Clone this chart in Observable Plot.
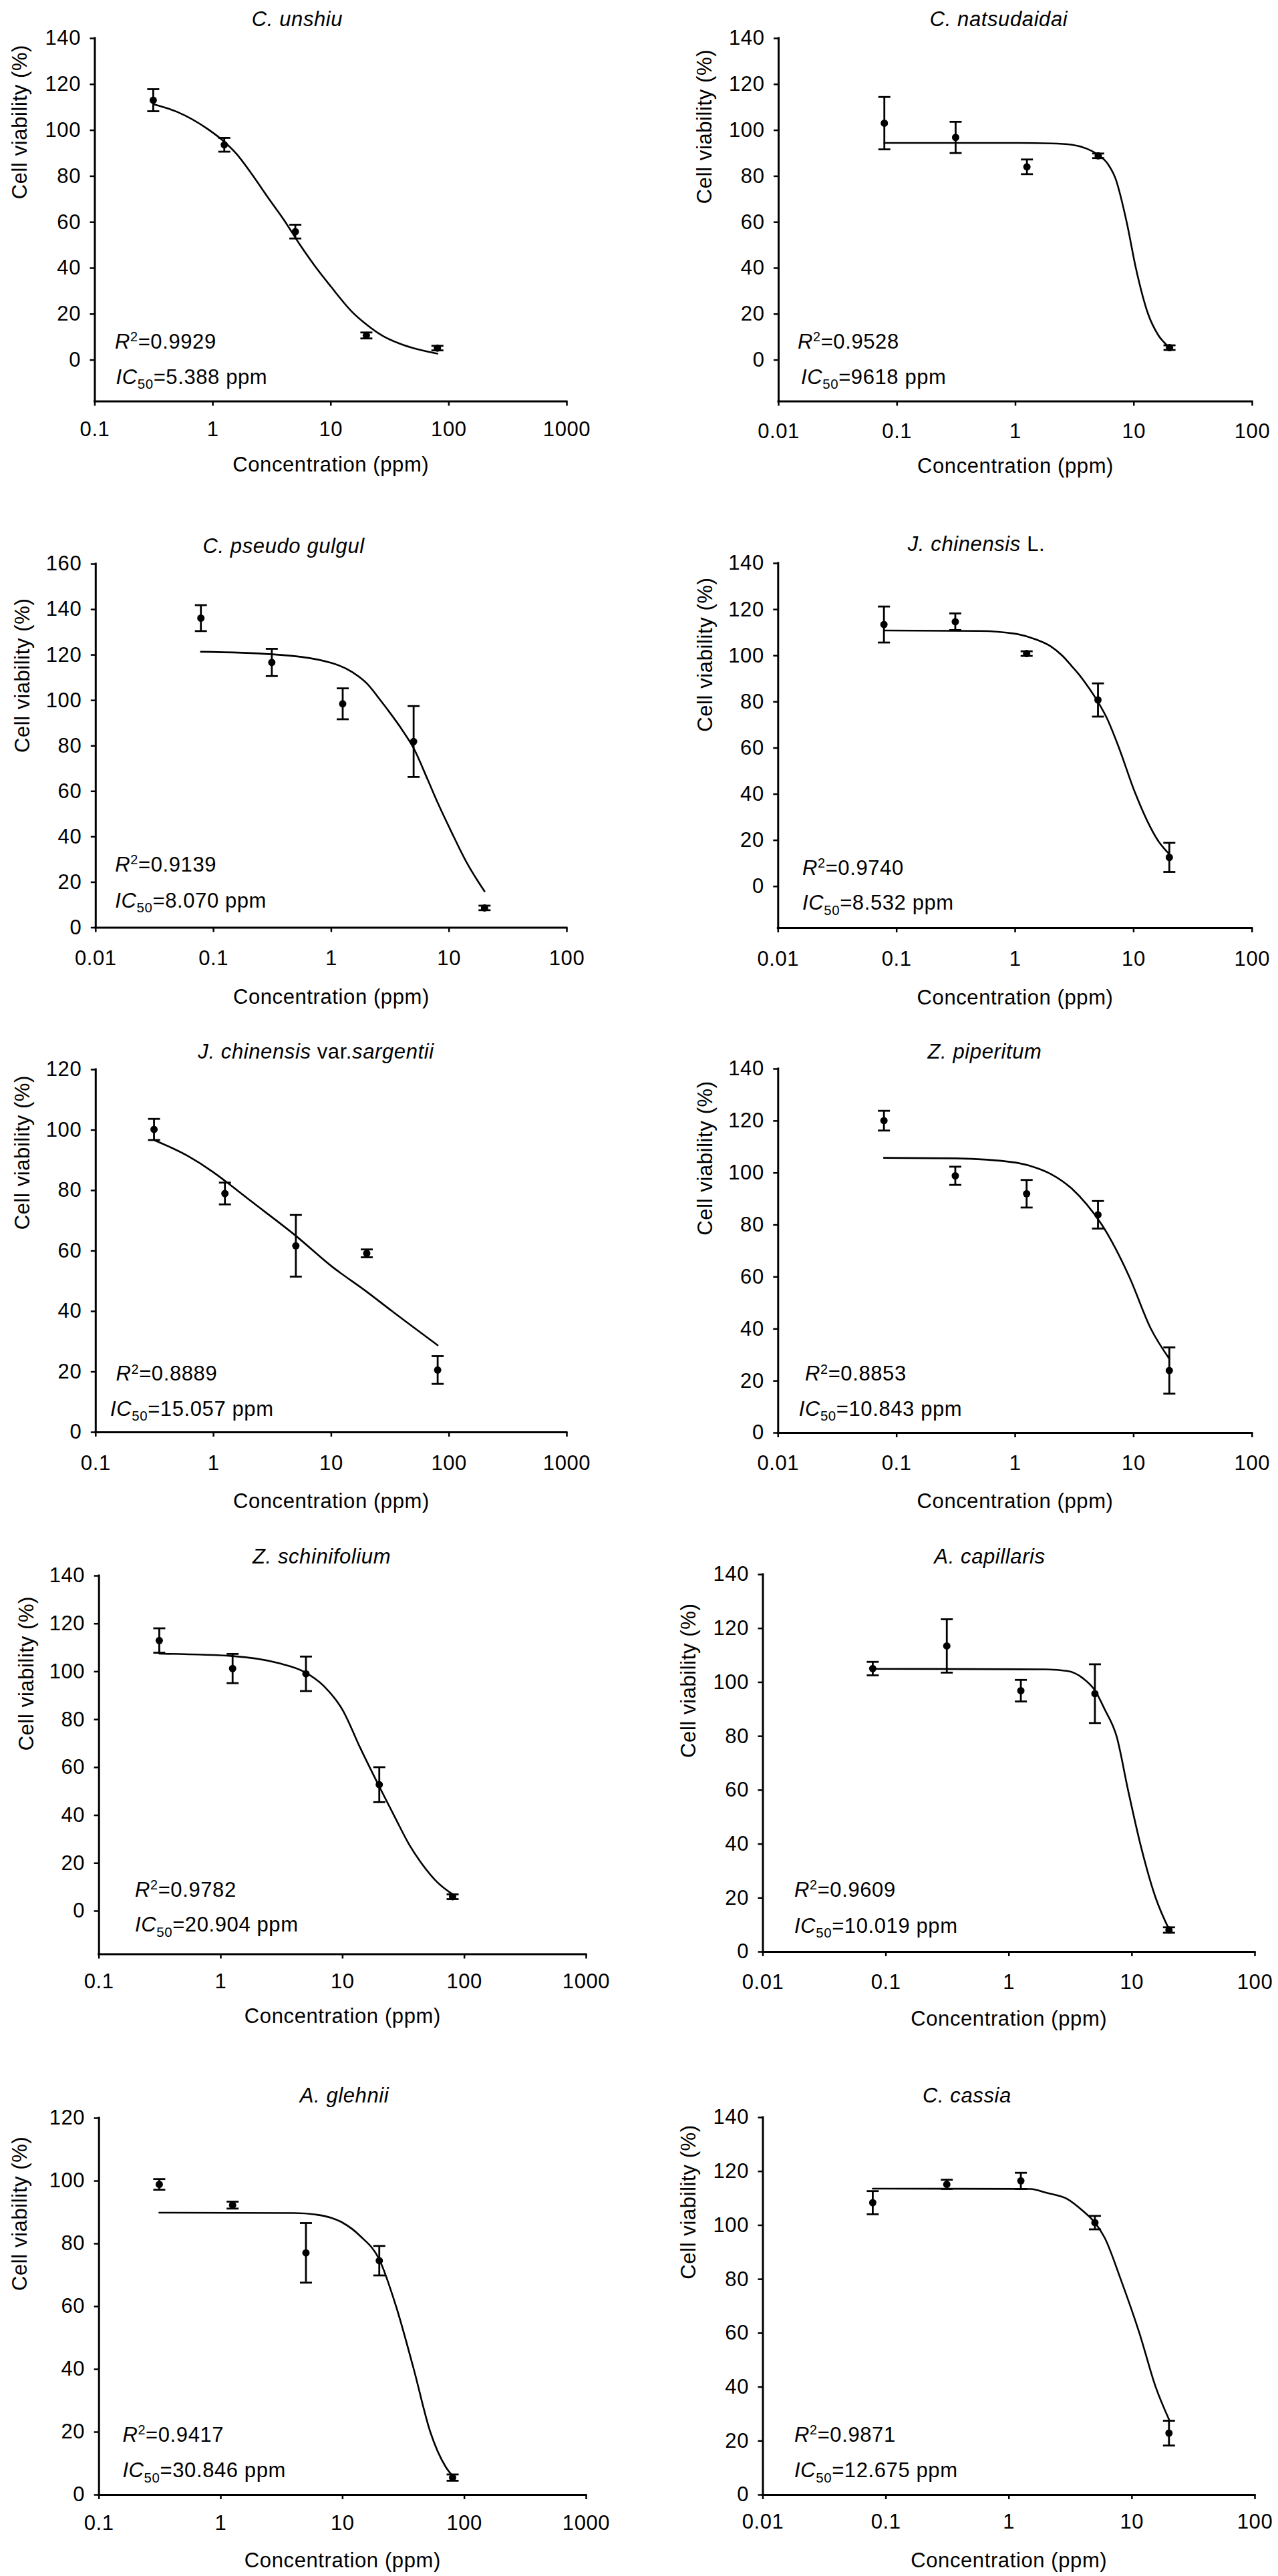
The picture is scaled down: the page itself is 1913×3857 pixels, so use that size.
<!DOCTYPE html>
<html>
<head>
<meta charset="utf-8">
<script src="https://cdn.jsdelivr.net/npm/d3@7"></script>
<script src="https://cdn.jsdelivr.net/npm/@observablehq/plot@0.6"></script>
<style>
  html, body { margin: 0; padding: 0; background: #fff; overflow: hidden; }
  #page { position: relative; width: 1913px; height: 3857px; background: #fff;
          font-family: "Liberation Sans", Arial, sans-serif; color: #000; }
  .lbl { position: absolute; font-size: 31px; line-height: 31px; letter-spacing: 0.6px; white-space: nowrap; }
  .sup { font-size: 0.64em; position: relative; top: -0.52em; line-height: 0; }
  .sub { font-size: 0.66em; position: relative; top: 0.36em; line-height: 0; }
</style>
</head>
<body>
<div id="page"></div>
<script>
// ---------------- DATA ----------------
// concentrations (ppm)
const concWide = [0.3125, 1.25, 5, 20, 80];          // panels on the 0.1–1000 axis
const concNarrow = [0.078125, 0.3125, 1.25, 5, 20];   // panels on the 0.01–100 axis

// x tick labels
const ticksWide = [0.1, 1, 10, 100, 1000];
const ticksNarrow = [0.01, 0.1, 1, 10, 100];

const xLabelText = "Concentration (ppm)";
const yLabelText = "Cell viability (%)";

// panel titles (text, italic?)
const titleParts = [
  [["C. unshiu", true]],
  [["C. natsudaidai", true]],
  [["C. pseudo gulgul", true]],
  [["J. chinensis", true], [" L.", false]],
  [["J. chinensis", true], [" var.", false], ["sargentii", true]],
  [["Z. piperitum", true]],
  [["Z. schinifolium", true]],
  [["A. capillaris", true]],
  [["A. glehnii", true]],
  [["C. cassia", true]]
];
const r2Values = ["0.9929", "0.9528", "0.9139", "0.9740", "0.8889", "0.8853", "0.9782", "0.9609", "0.9417", "0.9871"];
const ic50Values = ["5.388", "9618", "8.070", "8.532", "15.057", "10.843", "20.904", "10.019", "30.846", "12.675"];

// y axis ranges
const yMins = [-18, -18, 0, -18, 0, 0, -18, 0, 0, 0];
const yMaxs = [140, 140, 160, 140, 120, 140, 140, 140, 120, 140];

const unshiuMean = [113.1, 93.7, 55.9, 10.7, 5.2];
const unshiuErr  = [4.8, 3.0, 3.0, 1.3, 1.0];
const unshiuFitX = [0.3125, 0.5, 0.908, 1.25, 1.6, 2.1, 3, 4, 5.5, 7.3, 10, 15.1, 20, 27.5, 40, 50, 80];
const unshiuFitY = [111.4, 108, 100.5, 95, 89.5, 81.5, 70, 61, 50, 41, 32, 21, 15.5, 10.5, 6.8, 5.2, 2.8];

const natsuMean = [103.1, 96.9, 84.1, 88.9, 5.4];
const natsuErr  = [11.4, 6.8, 3.2, 1.0, 1.0];
const natsuFitX = [0.078125, 1, 2, 3, 4, 5, 6, 7, 8.7, 10.4, 13.2, 16, 20];
const natsuFitY = [94.5, 94.5, 94.3, 93.7, 92, 89.3, 85.5, 79, 60, 40, 20, 11, 5.5];

const gulgulMean = [136.2, 116.7, 98.5, 81.9, 8.7];
const gulgulErr  = [5.7, 6.0, 6.8, 15.6, 1.0];
const gulgulFitX = [0.078125, 0.3125, 1, 1.5, 2, 2.62, 3, 4, 5, 6.6, 8, 10.5, 14, 17.3, 20];
const gulgulFitY = [121.4, 120.3, 116.5, 112.5, 107.5, 100, 96, 87, 79, 65, 55, 42, 29, 21, 16];

const chinLMean = [113.5, 114.7, 100.9, 80.8, 12.6];
const chinLErr  = [7.8, 3.6, 1.0, 7.2, 6.3];
const chinLFitX = [0.078125, 0.5, 1, 1.5, 2, 2.5, 3, 3.5, 4, 5, 6, 7.4, 10.3, 13, 16, 20];
const chinLFitY = [110.9, 110.7, 109.5, 107, 104, 100, 95.5, 91.5, 87.5, 80, 72.5, 61, 40.5, 28.5, 20, 14];

const sargMean = [100.2, 79.0, 61.7, 59.2, 20.6];
const sargErr  = [3.5, 3.6, 10.2, 1.3, 4.6];
const sargFitX = [0.3125, 0.6, 1, 1.25, 2, 5, 10, 20, 33, 80];
const sargFitY = [96.7, 91.5, 86, 83.2, 77, 65, 55, 46.5, 40, 28.8];

const pipMean = [120.1, 98.9, 92.0, 83.9, 24.0];
const pipErr  = [3.8, 3.5, 5.3, 5.3, 8.9];
const pipFitX = [0.078125, 0.3125, 1, 1.5, 2, 3, 4, 5.4, 9.2, 14, 20];
const pipFitY = [105.8, 105.6, 104, 102, 99.6, 94, 88, 80, 60, 40, 28.5];

const schinMean = [113.0, 101.3, 99.1, 52.8, 6.0];
const schinErr  = [5.1, 6.1, 7.2, 7.3, 1.0];
const schinFitX = [0.3125, 1.25, 3, 4.8, 7, 10, 14, 20, 27, 35, 43, 60, 80];
const schinFitY = [107.5, 106.5, 103.5, 100, 94, 84, 68, 52, 39, 28, 21, 12, 7];

const capMean = [105.1, 113.5, 96.9, 95.8, 8.1];
const capErr  = [2.5, 9.9, 4.0, 10.9, 1.0];
const capFitX = [0.078125, 2, 3, 4, 5, 6, 7.5, 9.3, 11.7, 15.6, 20];
const capFitY = [105, 104.8, 104.2, 101.5, 97, 90, 80, 60, 40, 20, 8.4];

const glehMean = [98.9, 92.3, 77.1, 74.6, 5.5];
const glehErr  = [1.7, 1.1, 9.5, 4.7, 1.0];
const glehFitX = [0.3125, 4, 6, 8, 10, 14, 20, 27.5, 38.4, 52.5, 70, 80];
const glehFitY = [89.9, 89.8, 89.3, 88.3, 86.7, 82.4, 75, 60, 40, 20, 9, 6];

const cassMean = [108.4, 115.2, 116.5, 101.0, 22.9];
const cassErr  = [4.3, 1.7, 3.0, 2.5, 4.6];
const cassFitX = [0.078125, 1.5, 2, 3, 4, 5, 6, 8.1, 11.5, 15.6, 20];
const cassFitY = [113.6, 113.5, 112.1, 109.7, 105.3, 101, 95.4, 80, 60, 40, 28];

// table built from the arrays above
const series = [
  {conc: concWide,   ticks: ticksWide,   mean: unshiuMean, err: unshiuErr, fx: unshiuFitX, fy: unshiuFitY},
  {conc: concNarrow, ticks: ticksNarrow, mean: natsuMean,  err: natsuErr,  fx: natsuFitX,  fy: natsuFitY},
  {conc: concNarrow, ticks: ticksNarrow, mean: gulgulMean, err: gulgulErr, fx: gulgulFitX, fy: gulgulFitY},
  {conc: concNarrow, ticks: ticksNarrow, mean: chinLMean,  err: chinLErr,  fx: chinLFitX,  fy: chinLFitY},
  {conc: concWide,   ticks: ticksWide,   mean: sargMean,   err: sargErr,   fx: sargFitX,   fy: sargFitY},
  {conc: concNarrow, ticks: ticksNarrow, mean: pipMean,    err: pipErr,    fx: pipFitX,    fy: pipFitY},
  {conc: concWide,   ticks: ticksWide,   mean: schinMean,  err: schinErr,  fx: schinFitX,  fy: schinFitY},
  {conc: concNarrow, ticks: ticksNarrow, mean: capMean,    err: capErr,    fx: capFitX,    fy: capFitY},
  {conc: concWide,   ticks: ticksWide,   mean: glehMean,   err: glehErr,   fx: glehFitX,   fy: glehFitY},
  {conc: concNarrow, ticks: ticksNarrow, mean: cassMean,   err: cassErr,   fx: cassFitX,   fy: cassFitY}
];

// ---------------- LAYOUT (page pixels) ----------------
// colX/colW: panel column; axisX/xEnd: x-axis extent; yTop: top tick; axis: x-axis line
const layout = [
  {colX: 0,   colW: 960, axisX: 141.5,  xEnd: 848,    yTop: 56.5,   axis: 600,    tick: 52,   xLab: 105, yDx: -112,  yMid: 70, title: [445, 39],     r2: [172, 522],     ic: [173.5, 575]},
  {colX: 960, colW: 953, axisX: 1165,   xEnd: 1874,   yTop: 56.5,   axis: 600,    tick: 55,   xLab: 107, yDx: -110,  yMid: 68, title: [1495, 39],    r2: [1194, 522],    ic: [1199, 575]},
  {colX: 0,   colW: 960, axisX: 142.8,  xEnd: 848,    yTop: 844,    axis: 1388.5, tick: 56,   xLab: 114, yDx: -109,  yMid: 77, title: [424.6, 828],  r2: [172.3, 1305],  ic: [172.3, 1359]},
  {colX: 960, colW: 953, axisX: 1164.3, xEnd: 1873.8, yTop: 842.5,  axis: 1388.5, tick: 56.5, xLab: 114, yDx: -109,  yMid: 67, title: [1461.5, 825], r2: [1201, 1310],   ic: [1201, 1362.5]},
  {colX: 0,   colW: 960, axisX: 142.8,  xEnd: 848,    yTop: 1601,   axis: 2144,   tick: 56,   xLab: 113, yDx: -109,  yMid: 67, title: [473, 1585],   r2: [173.5, 2067.5], ic: [165, 2120]},
  {colX: 960, colW: 953, axisX: 1164.3, xEnd: 1873.8, yTop: 1600,   axis: 2145,   tick: 55,   xLab: 112, yDx: -109,  yMid: 76, title: [1474, 1585],  r2: [1205, 2067.5], ic: [1195.7, 2120]},
  {colX: 0,   colW: 960, axisX: 147.7,  xEnd: 877,    yTop: 2358.5, axis: 2925,   tick: 51,   xLab: 103, yDx: -108,  yMid: 67, title: [481.5, 2341], r2: [202, 2840],    ic: [202, 2892.5]},
  {colX: 960, colW: 953, axisX: 1141.5, xEnd: 1878,   yTop: 2356.5, axis: 2921.5, tick: 55,   xLab: 110, yDx: -110.7, yMid: 72, title: [1481.5, 2341], r2: [1189, 2840],  ic: [1189, 2894]},
  {colX: 0,   colW: 960, axisX: 147.7,  xEnd: 877,    yTop: 3170.5, axis: 3734.5, tick: 52.5, xLab: 108, yDx: -118,  yMid: 65, title: [515.5, 3148], r2: [183.4, 3656],  ic: [183.4, 3709.5]},
  {colX: 960, colW: 953, axisX: 1141.5, xEnd: 1878,   yTop: 3169.5, axis: 3734.5, tick: 50,   xLab: 108, yDx: -110.7, yMid: 80, title: [1447.4, 3148], r2: [1189, 3656],  ic: [1189, 3709.5]}
];

// ---------------- DRAW ----------------
const page = document.getElementById("page");
const FS = 31;
const FONT = "'Liberation Sans', Arial, sans-serif";

function placeLabel(html, x, baseline, center) {
  const el = document.createElement("div");
  el.className = "lbl";
  el.innerHTML = html;
  el.style.left = x + "px";
  el.style.top = (baseline - FS * 0.8465) + "px";
  if (center) el.style.transform = "translateX(-50%)";
  page.appendChild(el);
}

// horizontal cap symbol for error bars (half-width = r)
const capSymbol = {
  draw(ctx, size) {
    const w = Math.sqrt(size / Math.PI);
    ctx.moveTo(-w, 0);
    ctx.lineTo(w, 0);
  }
};

series.forEach((s, i) => {
  const L = layout[i];
  const yMin = yMins[i], yMax = yMaxs[i];
  const svgTop = L.yTop - 24;
  const svgBottom = Math.min(L.axis + 120, 3857);
  const W = L.colW, H = svgBottom - svgTop;

  const rows = s.conc.map((c, j) => ({c, m: s.mean[j], lo: s.mean[j] - s.err[j], hi: s.mean[j] + s.err[j]}));
  const fit = s.fx.map((x, j) => ({x, y: s.fy[j]}));
  const yTicks = d3.range(0, yMax + 1, 20);

  const chart = Plot.plot({
    width: W,
    height: H,
    marginLeft: L.axisX - L.colX,
    marginRight: L.colX + W - L.xEnd,
    marginTop: L.yTop - svgTop,
    marginBottom: svgBottom - L.axis,
    x: {type: "log", domain: [s.ticks[0], s.ticks[s.ticks.length - 1]]},
    y: {domain: [yMin, yMax]},
    style: {fontFamily: FONT, fontSize: FS + "px", letterSpacing: "0.6px", color: "#000", background: "transparent", overflow: "visible"},
    marks: [
      Plot.axisY({ticks: yTicks, tickSize: 7, tickPadding: 14, tickFormat: (d) => String(d), label: null, fontSize: FS, strokeWidth: 2.5}),
      Plot.axisX({ticks: s.ticks, tickSize: 7, tickPadding: L.tick - 7 - 0.71 * FS, tickFormat: (d) => String(d), label: null, fontSize: FS, strokeWidth: 2.5}),
      Plot.ruleX([s.ticks[0]], {strokeWidth: 3, strokeLinecap: "square"}),
      Plot.ruleY([yMin], {strokeWidth: 3, strokeLinecap: "square"}),
      Plot.line(fit, {x: "x", y: "y", curve: "monotone-x", strokeWidth: 2.6, stroke: "#000"}),
      Plot.ruleX(rows, {x: "c", y1: "lo", y2: "hi", strokeWidth: 2.8, stroke: "#000"}),
      Plot.dot(rows, {x: "c", y: "hi", symbol: capSymbol, r: 9, stroke: "#000", fill: "none", strokeWidth: 2.8}),
      Plot.dot(rows, {x: "c", y: "lo", symbol: capSymbol, r: 9, stroke: "#000", fill: "none", strokeWidth: 2.8}),
      Plot.dot(rows, {x: "c", y: "m", r: 5.5, fill: "#000", stroke: "none"}),
      Plot.text([xLabelText], {frameAnchor: "bottom", lineAnchor: "bottom", dy: L.xLab, fontSize: FS}),
      Plot.text([{t: yLabelText, v: L.yMid}], {text: "t", y: "v", frameAnchor: "left", rotate: -90, dx: L.yDx, fontSize: FS})
    ]
  });
  chart.style.position = "absolute";
  chart.style.left = L.colX + "px";
  chart.style.top = svgTop + "px";
  page.appendChild(chart);

  // title
  const titleHtml = titleParts[i].map(([t, it]) => it ? `<i>${t}</i>` : t).join("");
  placeLabel(titleHtml, L.title[0], L.title[1], true);
  // statistics
  placeLabel(`<i>R</i><span class="sup">2</span>=${r2Values[i]}`, L.r2[0], L.r2[1], false);
  placeLabel(`<i>IC</i><span class="sub">50</span>=${ic50Values[i]} ppm`, L.ic[0], L.ic[1], false);
});
</script>
</body>
</html>
